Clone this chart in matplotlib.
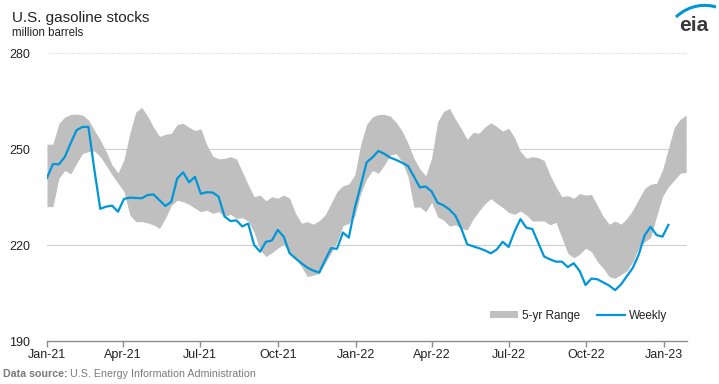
import matplotlib
matplotlib.use("Agg")
import matplotlib.pyplot as plt
import matplotlib.dates as mdates
import numpy as np
import pandas as pd
from matplotlib.path import Path
from matplotlib.patches import PathPatch

# ---------------- data ----------------
weekly_start = "2021-01-01"
weekly = [241.0, 245.3, 245.2, 247.5, 251.8, 255.9, 256.9, 256.9, 243.6, 231.3,
          232.0, 232.3, 230.4, 234.4, 234.8, 234.7, 234.6, 235.6, 235.8, 234.0,
          232.2, 233.5, 240.8, 242.7, 239.6, 241.3, 236.0, 236.5, 236.4, 235.1,
          228.9, 227.5, 227.7, 225.8, 226.7, 220.0, 217.9, 221.0, 221.4, 224.7,
          222.6, 217.4, 215.8, 214.3, 212.9, 212.0, 211.4, 215.3, 219.0, 218.8,
          223.9, 222.3, 231.5, 238.5, 245.8, 247.4, 249.4, 248.5, 247.3, 246.6,
          245.7, 244.7, 241.4, 238.0, 238.3, 236.7, 233.2, 232.4, 231.1, 229.2,
          225.2, 220.2, 219.6, 219.0, 218.3, 217.4, 218.6, 221.0, 219.4, 224.2,
          228.1, 225.4, 225.0, 220.7, 216.4, 215.5, 214.8, 214.8, 213.1, 214.3,
          211.9, 207.5, 209.5, 209.3, 208.3, 207.3, 205.9, 207.7, 210.3, 212.9,
          217.1, 223.1, 225.7, 223.1, 222.6, 226.3]

range_upper = [251.5, 251.5, 258.0, 260.0, 260.8, 260.9, 260.6, 259.1, 255.9, 252.8,
               249.2, 245.0, 242.5, 246.6, 254.9, 261.5, 263.0, 260.3, 256.8, 253.9,
               254.6, 254.9, 257.7, 258.0, 256.8, 255.8, 256.3, 251.3, 247.8, 246.9,
               247.1, 247.6, 246.9, 242.9, 238.8, 235.1, 235.6, 233.8, 235.1, 234.6,
               235.6, 234.6, 229.9, 226.8, 227.3, 226.5, 227.6, 229.4, 233.0, 236.7,
               238.5, 239.1, 241.9, 251.3, 257.7, 260.0, 260.8, 260.8, 260.3, 258.3,
               255.6, 251.8, 247.1, 243.8, 241.6, 247.3, 258.5, 261.7, 262.7, 259.3,
               256.3, 253.0, 255.2, 254.9, 256.9, 258.2, 257.0, 255.6, 256.5, 253.6,
               249.2, 247.1, 247.6, 247.3, 246.4, 241.9, 238.2, 235.1, 235.4, 234.6,
               236.1, 235.6, 235.8, 232.3, 228.9, 226.5, 227.5, 226.5, 228.3, 231.0,
               234.4, 237.7, 239.0, 239.3, 243.4, 250.2, 256.8, 259.3, 260.6]

range_lower = [232.0, 232.0, 240.8, 243.3, 242.2, 245.5, 248.6, 249.2, 249.4, 247.6,
               244.8, 241.9, 239.3, 236.7, 229.4, 227.3, 227.3, 226.9, 226.3, 225.2,
               228.3, 232.3, 234.0, 233.5, 232.7, 231.5, 230.4, 230.9, 229.9, 230.4,
               228.9, 229.6, 228.3, 228.5, 227.5, 223.9, 218.4, 216.4, 217.6, 219.0,
               220.2, 217.4, 215.8, 213.2, 210.1, 210.6, 211.1, 214.3, 217.4, 221.0,
               226.0, 226.8, 228.9, 236.0, 240.6, 243.3, 242.4, 245.0, 248.1, 248.5,
               246.0, 241.4, 231.8, 231.9, 230.4, 233.3, 228.8, 227.8, 225.9, 226.3,
               225.2, 224.7, 228.1, 230.6, 232.9, 234.5, 233.0, 231.7, 230.2, 229.6,
               230.6, 229.4, 227.5, 227.5, 227.5, 226.3, 227.1, 222.3, 217.4, 216.0,
               217.1, 219.0, 217.9, 214.8, 212.7, 210.1, 209.6, 210.8, 211.9, 214.8,
               219.2, 221.0, 222.3, 228.9, 235.1, 238.2, 240.3, 242.4, 242.7]

tick_dates = ["2021-01-01", "2021-04-01", "2021-07-01", "2021-10-01", "2022-01-01",
              "2022-04-01", "2022-07-01", "2022-10-01", "2023-01-01"]
tick_labels = ["Jan-21", "Apr-21", "Jul-21", "Oct-21", "Jan-22",
               "Apr-22", "Jul-22", "Oct-22", "Jan-23"]
y_ticks = [190, 220, 250, 280]

weekly_dates = pd.date_range(weekly_start, periods=len(weekly), freq="7D")
range_dates = pd.date_range(weekly_start, periods=len(range_upper), freq="7D")

# ---------------- style ----------------
plt.rcParams['font.family'] = ['Liberation Sans', 'DejaVu Sans']
GRAY_BAND = "#BFBFBF"
BLUE = "#0096D7"
TXT = "#222222"

fig = plt.figure(figsize=(7.19, 3.84), dpi=100)
ax = fig.add_axes([47/719, 1-341/384, (687-47)/719, (341-53)/384])

ax.fill_between(range_dates, range_lower, range_upper, color=GRAY_BAND,
                linewidth=0, label="5-yr Range", zorder=2)
ax.plot(weekly_dates, weekly, color=BLUE, linewidth=1.6, label="Weekly", zorder=3)

ax.set_ylim(190, 280)
ax.set_xlim(pd.Timestamp("2021-01-01"), pd.Timestamp("2023-01-28"))
ax.set_yticks(y_ticks)
ax.set_xticks(pd.to_datetime(tick_dates))
ax.set_xticklabels(tick_labels)

for s in ["top", "right", "left"]:
    ax.spines[s].set_visible(False)
ax.spines["bottom"].set_color("#8C8C8C")
ax.spines["bottom"].set_linewidth(1.0)
ax.tick_params(axis="x", length=4, width=1.0, color="#8C8C8C", labelsize=9,
               labelcolor=TXT, pad=2)
ax.tick_params(axis="y", length=0, labelsize=9, labelcolor=TXT, pad=12)
for yv in y_ticks[1:3]:
    ax.axhline(yv, color="#CFCFCF", linewidth=0.8, zorder=1)
ax.axhline(y_ticks[3], color="#DADADA", linewidth=0.8, linestyle=(0, (1, 1)),
           zorder=1, clip_on=False)

leg = ax.legend(loc="lower right", bbox_to_anchor=(0.985, 0.03), ncol=2, frameon=False,
                fontsize=8.5, handlelength=2.4, handleheight=0.6, columnspacing=1.4,
                handletextpad=0.3, labelcolor=TXT)

# ---------------- texts ----------------
fig.text(12/719, 1-22/384, "U.S. gasoline stocks", fontsize=11, color=TXT, va="baseline")
fig.text(12/719, 1-36/384, "million barrels", fontsize=8.3, color=TXT, va="baseline")

t1 = fig.text(3/719, 1-377/384, "Data source:", fontsize=7.7, color="#7A7A7A",
              fontweight="bold", va="baseline")
fig.canvas.draw()
bb = t1.get_window_extent()
fig.text((bb.x1 + 2)/719, 1-377/384, "U.S. Energy Information Administration",
         fontsize=7.7, color="#7A7A7A", va="baseline")

# eia logo
fig.text(694/719, 1-31/384, "eia", fontsize=15, fontweight="bold", color="#3A3A3A",
         ha="center", va="baseline")
verts = [(676/719, 1-17/384), (690/719, 1-4/384), (706/719, 1-4/384), (716/719, 1-7/384)]
arc = PathPatch(Path(verts, [Path.MOVETO, Path.CURVE4, Path.CURVE4, Path.CURVE4]),
                transform=fig.transFigure, fill=False, edgecolor=BLUE, linewidth=2.2)
fig.patches.append(arc)

fig.savefig("out.png", dpi=100)
